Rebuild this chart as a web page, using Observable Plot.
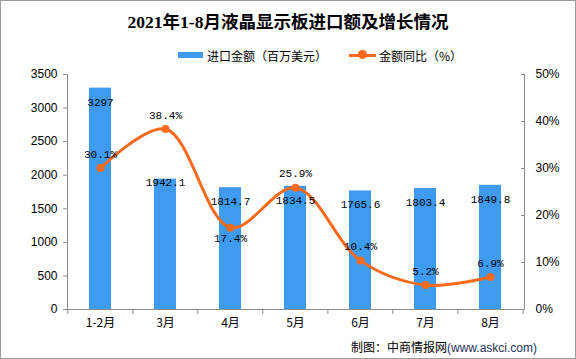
<!DOCTYPE html>
<html><head><meta charset="utf-8">
<script src="https://cdn.jsdelivr.net/npm/d3@7"></script>
<script src="https://cdn.jsdelivr.net/npm/@observablehq/plot@0.6"></script>
<style>
body{margin:0;background:#fff}
#wrap{width:576px;height:359px;box-sizing:border-box;border:1px solid #9a9a9a;overflow:hidden;background:#fff;font-family:"Liberation Sans","Noto Sans CJK SC",sans-serif;color:#000}
#title{height:40px;line-height:42px;text-align:center;font-weight:bold;font-size:17.5px;font-family:"Liberation Serif","Noto Sans CJK SC",serif;white-space:nowrap}
#legend{height:28px;display:flex;align-items:center;padding-left:177px;font-size:12px;font-family:"Noto Sans CJK SC",sans-serif;white-space:nowrap}
.sw{display:inline-block;width:25px;height:6px;background:#3E9BF0;margin-right:4px}
.ln{position:relative;display:inline-block;width:27px;height:3px;background:#FA6A1C;margin-left:22px;margin-right:3px}
.ln::after{content:"";position:absolute;left:9px;top:-3.5px;width:9px;height:9px;border-radius:50%;background:#FA6A1C}
#chart svg{display:block;overflow:visible}
#caption{height:23px;line-height:23px;text-align:right;padding-right:38px;font-size:12px;font-family:"Noto Sans CJK SC",sans-serif;white-space:nowrap}
#caption .u{font-family:"Liberation Sans",sans-serif;color:#1d2f5c}
</style></head>
<body>
<div id="wrap">
  <div id="title">2021年1-8月液晶显示板进口额及增长情况</div>
  <div id="legend"><span class="sw"></span><span>进口金额（百万美元）</span><span class="ln"></span><span>金额同比（%）</span></div>
  <div id="chart"></div>
  <div id="caption">制图：中商情报网<span class="u">(www.askci.com)</span></div>
</div>
<script>
const categories = ["1-2月","3月","4月","5月","6月","7月","8月"];
const amounts = [3297, 1942.1, 1814.7, 1834.5, 1765.6, 1803.4, 1849.8];
const growth = [30.1, 38.4, 17.4, 25.9, 10.4, 5.2, 6.9];
const leftTicks = [0, 500, 1000, 1500, 2000, 2500, 3000, 3500];
const rightTicks = [0, 10, 20, 30, 40, 50];

const amountMax = 3500, pctMax = 50;
const ratio = amountMax / pctMax;
const data = categories.map((c, i) => ({cat: c, amount: amounts[i], growth: growth[i], gy: growth[i] * ratio}));

const W = 574, H = 266, ML = 66, MR = 51, MT = 5, MB = 26;
const step = (W - ML - MR) / categories.length;
const axisColor = "#8c8c8c";
const blue = "#3E9BF0", orange = "#FA6A1C";
const labelFont = "Liberation Mono, DejaVu Sans Mono, monospace";
const belowLabel = new Set(["4月"]);
const nearTopLabel = new Set(["3月"]);

const chart = Plot.plot({
  width: W, height: H, marginTop: MT, marginBottom: MB, marginLeft: ML, marginRight: MR,
  style: {fontFamily: "Liberation Sans, Noto Sans CJK SC, sans-serif", fontSize: "12px", color: "#000", background: "transparent", overflow: "visible"},
  x: {domain: categories, paddingInner: 0.66, paddingOuter: 0.33, label: null},
  y: {domain: [0, amountMax], label: null},
  marks: [
    Plot.barY(data, {x: "cat", y: "amount", fill: blue}),
    Plot.ruleY([0], {stroke: axisColor}),
    Plot.frame({anchor: "left", stroke: axisColor}),
    Plot.frame({anchor: "right", stroke: axisColor}),
    Plot.axisY({ticks: leftTicks, tickSize: 4, tickPadding: 6, stroke: axisColor, tickFormat: d => String(d), label: null}),
    Plot.axisY({anchor: "right", ticks: rightTicks.map(v => v * ratio), tickFormat: d => Math.round(d / ratio) + "%", tickSize: -4, tickPadding: 15, stroke: axisColor, label: null}),
    Plot.axisX({tickSize: 5, dx: -step / 2, text: null, stroke: axisColor, label: null}),
    Plot.axisX({ticks: [categories[categories.length - 1]], tickSize: 5, dx: step / 2, text: null, stroke: axisColor, label: null}),
    Plot.axisX({tickSize: 0, tickPadding: 9, label: null, fontFamily: "Noto Sans CJK SC, sans-serif"}),
    Plot.line(data, {x: "cat", y: "gy", curve: "catmull-rom", stroke: orange, strokeWidth: 3}),
    Plot.dot(data, {x: "cat", y: "gy", r: 4, fill: orange}),
    Plot.text(data.filter(d => !nearTopLabel.has(d.cat)), {x: "cat", y: "amount", text: d => String(d.amount), dy: 14, fontFamily: labelFont, fontSize: 11, fill: "#000"}),
    Plot.text(data.filter(d => nearTopLabel.has(d.cat)), {x: "cat", y: "amount", text: d => String(d.amount), dy: 3, fontFamily: labelFont, fontSize: 11, fill: "#000"}),
    Plot.text(data.filter(d => !belowLabel.has(d.cat)), {x: "cat", y: "gy", text: d => d.growth.toFixed(1) + "%", dy: -14, fontFamily: labelFont, fontSize: 11, fill: "#000"}),
    Plot.text(data.filter(d => belowLabel.has(d.cat)), {x: "cat", y: "gy", text: d => d.growth.toFixed(1) + "%", dy: 11, fontFamily: labelFont, fontSize: 11, fill: "#000"})
  ]
});
document.getElementById("chart").appendChild(chart);
</script>
</body></html>
